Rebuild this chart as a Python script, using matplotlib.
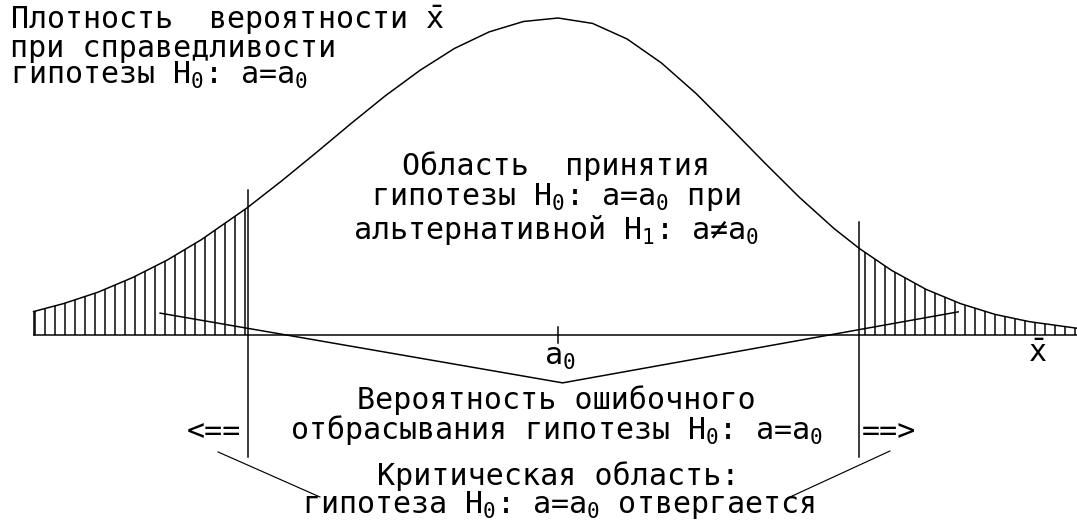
"""Density of the sample mean with two-sided critical region (hatched tails)."""
import numpy as np
import matplotlib
matplotlib.use('Agg')
import matplotlib.pyplot as plt

# density of x-bar (x in sigma-like units around a0, y relative to peak)
curve_x = [-2.28, -2.15, -2.0, -1.85, -1.7, -1.55, -1.35, -1.2, -1.05, -0.9, -0.75, -0.6,
           -0.45, -0.3, -0.15, 0.0, 0.15, 0.3, 0.45, 0.6, 0.75, 0.9, 1.05, 1.2, 1.31,
           1.45, 1.6, 1.75, 1.9, 2.05, 2.26]
curve_y = [0.074, 0.099, 0.135, 0.181, 0.236, 0.301, 0.402, 0.487, 0.576, 0.667, 0.755, 0.835,
           0.904, 0.956, 0.989, 1.0, 0.983, 0.934, 0.858, 0.762, 0.653, 0.542, 0.434, 0.336, 0.273,
           0.204, 0.144, 0.099, 0.065, 0.042, 0.021]

# critical values and the heights of their marker lines
crit_x = [-1.35, 1.31]
crit_top = [0.457, 0.356]
crit_bottom = -0.385

# broken line "probability of wrongly rejecting H0"
error_x = [-1.73, 0.02, 1.74]
error_y = [0.069, -0.151, 0.073]

# leader lines from the arrows to the caption
lead_left_x = [-1.478, -1.035]
lead_left_y = [-0.369, -0.511]
lead_right_x = [1.443, 1.009]
lead_right_y = [-0.366, -0.511]

W, H, DPI = 1077, 526, 120
X0, SX = 558, 230.0   # pixel of a0, pixels per x unit
Y0, SY = 335, 317.0   # pixel of the axis, pixels per y unit

plt.rcParams['hatch.linewidth'] = 0.9
plt.rcParams['font.family'] = ['DejaVu Sans Mono', 'DejaVu Sans']
plt.rcParams['mathtext.fontset'] = 'custom'
plt.rcParams['mathtext.rm'] = 'DejaVu Sans Mono'
plt.rcParams['mathtext.it'] = 'DejaVu Sans Mono'
plt.rcParams['mathtext.bf'] = 'DejaVu Sans Mono'

fig = plt.figure(figsize=(W / DPI, H / DPI), dpi=DPI)
ax = fig.add_axes([0, 0, 1, 1])
ax.set_xlim((0 - X0) / SX, (W - X0) / SX)
ax.set_ylim((Y0 - H) / SY, Y0 / SY)
ax.axis('off')

x = np.array(curve_x)
y = np.array(curve_y)
lw = 0.9

ax.plot(x, y, color='black', lw=lw)
ax.plot([x[0], x[-1]], [0, 0], color='black', lw=lw)
ax.plot([0, 0], [-0.025, 0.025], color='black', lw=lw)

ax.fill_between(x, 0, y, where=x <= crit_x[0], facecolor='none', edgecolor='black',
                hatch='||', linewidth=0)
ax.fill_between(x, 0, y, where=x >= crit_x[1], facecolor='none', edgecolor='black',
                hatch='||', linewidth=0)
ax.plot([x[0], x[0]], [0, y[0]], color='black', lw=lw)

for cx, top in zip(crit_x, crit_top):
    ax.plot([cx, cx], [crit_bottom, top], color='black', lw=lw)

ax.plot(error_x, error_y, color='black', lw=lw)
ax.plot(lead_left_x, lead_left_y, color='black', lw=0.7)
ax.plot(lead_right_x, lead_right_y, color='black', lw=0.7)


def put(px, py, s, ha='center', va='center', ls=1.2):
    ax.text(px / W, 1 - py / H, s, transform=ax.transAxes, ha=ha, va=va,
            fontsize=18, color='black', linespacing=ls, multialignment=ha)


H0 = r'$H_0$: a=$a_0$'
put(10, 4, 'Плотность  вероятности ' + r'$\bar{x}$' + '\nпри справедливости\nгипотезы ' + H0,
    ha='left', va='top', ls=0.86)

put(556, 199, 'Область  принятия\nгипотезы ' + H0 + ' при\nальтернативной '
    + r'$H_1$: a≠$a_0$', ls=1.0)

put(560, 357, r'$a_0$')
put(1037, 353, r'$\bar{x}$')

put(556, 416, 'Вероятность ошибочного\nотбрасывания гипотезы ' + H0, ls=0.95)
put(187, 432, '<==', ha='left')
put(862, 432, '==>', ha='left')

put(558, 491, 'Критическая область:\nгипотеза ' + H0 + ' отвергается', ls=0.95)

fig.savefig('out.png', dpi=DPI)
